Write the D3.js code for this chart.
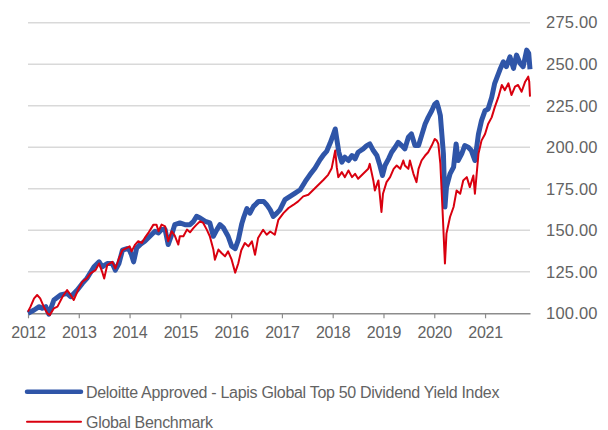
<!DOCTYPE html>
<html>
<head>
<meta charset="utf-8">
<script src="https://cdn.jsdelivr.net/npm/d3@7"></script>
<style>
	body{ margin:0; background:#fff; }
	text{ font-family:"Liberation Sans Narrow","Liberation Sans",Arial,sans-serif; fill:#636363; }
</style>
</head>
<body>
<svg id="chart" width="608" height="430"></svg>
<script>

// ticks
var yearTicks = [2012,2013,2014,2015,2016,2017,2018,2019,2020,2021];
var valueTicks = [100,125,150,175,200,225,250,275];

var seriesNames = ["Deloitte Approved - Lapis Global Top 50 Dividend Yield Index","Global Benchmark"];

// Lapis index (decimal year / value)
var lapisDates = [2012.00,2012.12,2012.22,2012.28,2012.35,2012.41,2012.51,2012.64,2012.77,2012.84,2012.97,
	2013.07,2013.16,2013.30,2013.40,2013.46,2013.56,2013.66,2013.72,2013.79,2013.86,2013.95,
	2014.00,2014.04,2014.08,2014.14,2014.21,2014.30,2014.40,2014.50,2014.57,2014.63,2014.70,2014.76,2014.83,2014.89,2014.99,
	2015.09,2015.19,2015.26,2015.32,2015.39,2015.49,2015.58,2015.65,2015.72,2015.78,2015.85,2015.94,
	2016.01,2016.08,2016.14,2016.21,2016.25,2016.31,2016.37,2016.44,2016.54,2016.64,2016.70,2016.77,2016.83,2016.90,2016.96,
	2017.06,2017.16,2017.26,2017.36,2017.46,2017.55,2017.65,2017.75,2017.82,2017.88,2017.95,
	2018.01,2018.05,2018.08,2018.12,2018.18,2018.24,2018.31,2018.38,2018.44,2018.50,2018.60,2018.67,2018.73,2018.80,2018.87,2018.93,2018.98,
	2019.03,2019.10,2019.16,2019.23,2019.29,2019.36,2019.42,2019.49,2019.55,2019.62,2019.69,2019.75,2019.82,2019.88,2019.95,
	2020.01,2020.05,2020.08,2020.12,2020.18,2020.21,2020.24,2020.31,2020.38,2020.43,2020.47,2020.54,2020.60,2020.67,2020.73,2020.80,2020.87,2020.93,
	2021.00,2021.06,2021.13,2021.19,2021.29,2021.36,2021.42,2021.49,2021.56,2021.62,2021.69,2021.75,2021.82,2021.86,2021.885];
var lapisValues = [100,102,104,103,104,99.5,108,111,112,110,114,
	118,121,128,131,128,130,130,126,130,138,139,
	138,135,131,139.4,141.4,143.4,146.4,149.4,148.4,150.4,150.4,141.4,147.4,153.4,154.4,
	153.4,153.4,155.4,158.4,157.4,155.4,154.4,146.4,150.4,153.4,151.4,146.4,
	140.4,139,144,154,158,163,160.3,164.4,167.4,167.4,165.4,162.3,158.3,160.3,162.3,
	168.4,170.4,172.4,174.4,179.4,183.4,187.4,192.5,195.5,197.5,202.5,
	207.5,211,205,197,191,194,192,195,193,197,199,201,202,198,195,189,183,
	189,193,197,200,203,201,199,206,208,201,201,207,214,218,222,
	226,227,224,219,196,164,176,184,188,202,192,196,201,200,198,192,208,216,
	222,223,230,238.5,246.5,251.5,248.5,254.5,247.5,255.5,250.5,248.5,258.5,256.5,247];

// global benchmark
var benchDates = [2012.00,2012.05,2012.12,2012.18,2012.24,2012.31,2012.38,2012.43,2012.51,2012.58,2012.68,2012.77,2012.84,2012.90,
	2013.00,2013.07,2013.16,2013.23,2013.33,2013.40,2013.46,2013.50,2013.56,2013.66,2013.72,2013.79,2013.86,2013.95,
	2014.00,2014.04,2014.11,2014.17,2014.24,2014.30,2014.37,2014.47,2014.53,2014.57,2014.63,2014.70,2014.76,2014.83,2014.89,2014.96,2014.99,
	2015.06,2015.13,2015.19,2015.26,2015.32,2015.39,2015.45,2015.52,2015.58,2015.65,2015.68,2015.75,2015.81,2015.88,2015.94,
	2016.01,2016.08,2016.14,2016.20,2016.27,2016.34,2016.41,2016.47,2016.53,2016.63,2016.70,2016.77,2016.86,2016.93,
	2017.03,2017.13,2017.23,2017.32,2017.42,2017.52,2017.62,2017.72,2017.82,2017.91,2017.98,
	2018.05,2018.08,2018.11,2018.18,2018.24,2018.31,2018.38,2018.44,2018.50,2018.60,2018.70,2018.73,2018.80,2018.83,2018.90,2018.96,2018.99,
	2019.06,2019.13,2019.20,2019.26,2019.33,2019.39,2019.42,2019.49,2019.52,2019.59,2019.65,2019.69,2019.75,2019.82,2019.88,2019.95,
	2020.01,2020.05,2020.08,2020.12,2020.16,2020.21,2020.24,2020.31,2020.38,2020.44,2020.51,2020.57,2020.64,2020.70,2020.77,2020.80,2020.87,2020.93,
	2021.00,2021.06,2021.13,2021.19,2021.26,2021.33,2021.39,2021.46,2021.52,2021.59,2021.65,2021.72,2021.79,2021.85,2021.87,2021.885];
var benchValues = [101,104,109,111,109,104,100,99,103,104,110,114,111,108,
	115,119,121,124,126,130,125,121,129,131,127,133,138,139.4,
	140.4,137.3,141.4,143.4,142.4,145.4,148.4,153.4,153.4,149.4,153.4,152.4,143.4,149.4,146.8,141.4,146.4,
	146.4,150.4,148.8,151.4,153.4,155.4,154.4,150.4,146.4,138.4,132.3,138.4,136.3,134.3,137.3,
	132.3,124.5,130,138,142.3,140.3,143.3,135.2,145.3,150.3,147.3,149.3,147.3,156.3,
	160.3,163.4,165.4,167.4,170.4,171.4,174.4,177.4,180.4,183.4,187.4,
	198,188,182,185,182,186,182,184,181,184,187,190,180,174,180,161,172,
	179,182,187,189,187,192,189,187,192,184,179,187,192,195,197,201,
	205,204,202,190,164,130,148,158,164,174,172,180,182,176,183,172,196,204,
	208,214,218,224,230,237.5,234.4,238.5,231.4,236.5,237.5,233.4,239.5,242.5,239.5,230.5];

var svg = d3.select("#chart");
var plotLeft = 28, plotRight = 530, plotTop = 22.7, plotBottom = 313.3;

var x = d3.scaleLinear().domain([2012, 2021.885]).range([plotLeft, plotRight]);
var y = d3.scaleLinear().domain([100, 275]).range([plotBottom, plotTop]);

// grid
svg.append("g").selectAll("line")
	.data(valueTicks.filter(function(v){ return v > 100; }))
	.enter().append("line")
	.attr("x1", plotLeft).attr("x2", plotRight)
	.attr("y1", function(d){ return y(d); })
	.attr("y2", function(d){ return y(d); })
	.attr("stroke", "#d9d9d9")
	.attr("stroke-width", 1.5);

// y labels on the right
var yAxis = svg.append("g")
	.attr("transform", "translate(" + plotRight + ",0)")
	.call(d3.axisRight(y).tickValues(valueTicks).tickFormat(d3.format(".2f")).tickSize(0).tickPadding(16));
yAxis.select(".domain").remove();
yAxis.selectAll("text").style("font-size", "16.5px").style("letter-spacing", "0.2px").attr("fill", null);

// x axis
var xAxis = svg.append("g")
	.attr("transform", "translate(0," + plotBottom + ")")
	.call(d3.axisBottom(x).tickValues(yearTicks).tickFormat(d3.format("d")).tickSize(5).tickSizeOuter(0).tickPadding(8));
xAxis.select(".domain").attr("stroke", "#8c8c8c").attr("stroke-width", 1.5);
xAxis.selectAll(".tick line").attr("stroke", "#8c8c8c").attr("stroke-width", 1.2);
xAxis.selectAll("text").style("font-size", "16px").style("letter-spacing", "-0.3px").attr("fill", null);

var line = d3.line()
	.x(function(d){ return x(d[0]); })
	.y(function(d){ return y(d[1]); });

var lapis = d3.zip(lapisDates, lapisValues);
var bench = d3.zip(benchDates, benchValues);

svg.append("path").datum(lapis)
	.attr("d", line)
	.attr("fill", "none")
	.attr("stroke", "#2f55a8")
	.attr("stroke-width", 5)
	.attr("stroke-linejoin", "round");

svg.append("path").datum(bench)
	.attr("d", line)
	.attr("fill", "none")
	.attr("stroke", "#d9000f")
	.attr("stroke-width", 2)
	.attr("stroke-linejoin", "round");

// legend
var legend = [
	{name: seriesNames[0], color: "#2f55a8", width: 4.5, y: 391.7},
	{name: seriesNames[1], color: "#d9000f", width: 2, y: 421.7}
];
var lg = svg.append("g").selectAll("g").data(legend).enter().append("g");
lg.append("line")
	.attr("x1", 27).attr("x2", 81)
	.attr("y1", function(d){ return d.y; }).attr("y2", function(d){ return d.y; })
	.attr("stroke", function(d){ return d.color; })
	.attr("stroke-width", function(d){ return d.width; })
	.attr("stroke-linecap", "round");
lg.append("text")
	.attr("x", 86)
	.attr("y", function(d){ return d.y + 6; })
	.style("font-size", "16px")
	.style("letter-spacing", "-0.3px")
	.text(function(d){ return d.name; });

</script>
</body>
</html>
